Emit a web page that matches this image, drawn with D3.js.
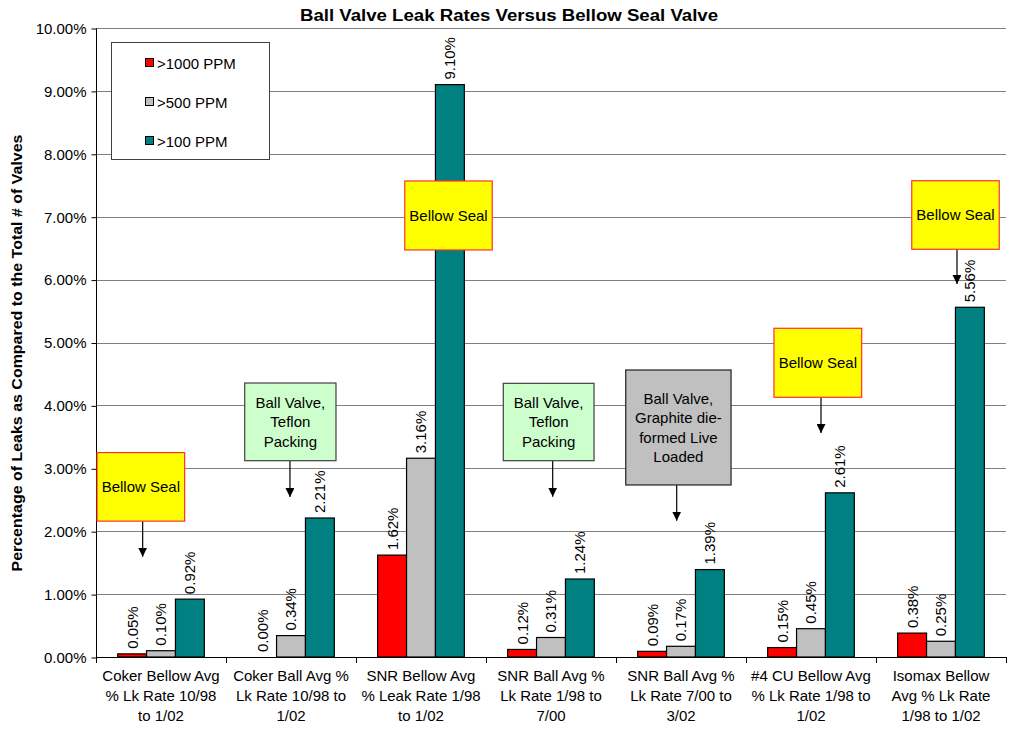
<!DOCTYPE html>
<head>
<meta charset="utf-8">
<style>
body { margin: 0; background: #fff; }
text { font-family: "Liberation Sans", Arial, sans-serif; fill: #000; }
.grid line { stroke: #808080; stroke-width: 1; }
.axis path, .axis line { stroke: #000; }
</style>
</head>
<body>
<script src="https://cdnjs.cloudflare.com/ajax/libs/d3/7.8.5/d3.min.js"></script>
<script>

var categories = [
  ["Coker Bellow Avg", "% Lk Rate 10/98", "to 1/02"],
  ["Coker Ball Avg %", "Lk Rate 10/98 to", "1/02"],
  ["SNR Bellow Avg", "% Leak Rate 1/98", "to 1/02"],
  ["SNR Ball Avg %", "Lk Rate 1/98 to", "7/00"],
  ["SNR Ball Avg %", "Lk Rate 7/00 to", "3/02"],
  ["#4 CU Bellow Avg", "% Lk Rate 1/98 to", "1/02"],
  ["Isomax Bellow", "Avg % Lk Rate", "1/98 to 1/02"]
];
var seriesNames = [">1000 PPM", ">500 PPM", ">100 PPM"];
var ppm1000 = [0.05, 0.00, 1.62, 0.12, 0.09, 0.15, 0.38];
var ppm500  = [0.10, 0.34, 3.16, 0.31, 0.17, 0.45, 0.25];
var ppm100  = [0.92, 2.21, 9.10, 1.24, 1.39, 2.61, 5.56];
var yTicks = [0, 1, 2, 3, 4, 5, 6, 7, 8, 9, 10];

// callouts: x in category units, y in percent units
var notes = [
  {lines: ["Bellow Seal"], kind: "yellow", x0: 0.008, x1: 0.682, y0: 3.25, y1: 2.16, ax: 0.359, tip: 1.595},
  {lines: ["Ball Valve,", "Teflon", "Packing"], kind: "green", x0: 1.144, x1: 1.846, y0: 4.356, y1: 3.121, ax: 1.492, tip: 2.544},
  {lines: ["Bellow Seal"], kind: "yellow", x0: 2.375, x1: 3.048, y0: 7.568, y1: 6.471, ax: null},
  {lines: ["Ball Valve,", "Teflon", "Packing"], kind: "green", x0: 3.133, x1: 3.831, y0: 4.351, y1: 3.121, ax: 3.513, tip: 2.549},
  {lines: ["Ball Valve,", "Graphite die-", "formed Live", "Loaded"], kind: "gray", x0: 4.075, x1: 4.885, y0: 4.563, y1: 2.735, ax: 4.467, tip: 2.167},
  {lines: ["Bellow Seal"], kind: "yellow", x0: 5.215, x1: 5.890, y0: 5.226, y1: 4.129, ax: 5.577, tip: 3.561},
  {lines: ["Bellow Seal"], kind: "yellow", x0: 6.275, x1: 6.948, y0: 7.572, y1: 6.482, ax: 6.623, tip: 5.930}
];

var colors = ["#ff0000", "#c0c0c0", "#008080"];
var boxStyle = {
  yellow: {fill: "#ffff00", stroke: "#ff3030"},
  green: {fill: "#ccffcc", stroke: "#404040"},
  gray: {fill: "#c0c0c0", stroke: "#202020"}
};

var width = 1014, height = 731;
var plotL = 96, plotR = 1006, plotT = 28, plotB = 657;
var fs = "15px";

var svg = d3.select("body").append("svg")
    .attr("width", width)
    .attr("height", height);

var x = d3.scaleBand().domain(d3.range(categories.length)).range([plotL, plotR]);
var xu = d3.scaleLinear().domain([0, categories.length]).range([plotL, plotR]);
var y = d3.scaleLinear().domain([0, 10]).range([plotB, plotT]);
var inner = d3.scaleBand().domain(d3.range(3)).range([0, x.bandwidth()]).paddingInner(0).paddingOuter(0.75);

// title
svg.append("text")
    .attr("x", 509).attr("y", 21)
    .attr("text-anchor", "middle")
    .attr("textLength", 418).attr("lengthAdjust", "spacingAndGlyphs")
    .style("font-size", "16px").style("font-weight", "bold")
    .text("Ball Valve Leak Rates Versus Bellow Seal Valve");

// grid
svg.append("g").attr("class", "grid")
  .selectAll("line").data(yTicks.slice(1)).enter().append("line")
    .attr("x1", plotL).attr("x2", plotR)
    .attr("y1", function(d) { return Math.round(y(d)) + 0.5; })
    .attr("y2", function(d) { return Math.round(y(d)) + 0.5; });

// y axis
var yAxis = d3.axisLeft(y).tickValues(yTicks).tickSize(5).tickPadding(5)
    .tickFormat(function(d) { return d.toFixed(2) + "%"; });
var gy = svg.append("g").attr("class", "axis")
    .attr("transform", "translate(" + (plotL + 0.5) + ",0.5)")
    .call(yAxis);
gy.select(".domain").attr("d", "M0," + plotT + "V" + plotB);
gy.selectAll("text").style("font-size", fs).attr("font-family", null);

svg.append("text")
    .attr("transform", "translate(22,353) rotate(-90)")
    .attr("text-anchor", "middle")
    .attr("textLength", 437).attr("lengthAdjust", "spacingAndGlyphs")
    .style("font-size", "14px").style("font-weight", "bold")
    .text("Percentage of Leaks as Compared to the Total # of Valves");

// bars
var series = [ppm1000, ppm500, ppm100];
var groups = svg.append("g").selectAll("g").data(categories).enter().append("g")
    .attr("transform", function(d, i) { return "translate(" + x(i) + ",0)"; });

groups.each(function(c, i) {
  var g = d3.select(this);
  series.forEach(function(s, k) {
    var v = s[i];
    if (v > 0) {
      g.append("rect")
        .attr("x", inner(k))
        .attr("y", y(v))
        .attr("width", inner.bandwidth())
        .attr("height", y(0) - y(v))
        .attr("fill", colors[k])
        .attr("stroke", "#000").attr("stroke-width", 1.2);
    }
    var cx = inner(k) + inner.bandwidth() / 2;
    g.append("text")
      .attr("transform", "translate(" + cx + "," + (y(v) - 5) + ") rotate(-90)")
      .attr("dy", "0.36em")
      .style("font-size", fs)
      .text(v.toFixed(2) + "%");
  });
});

// x axis
svg.append("line")
    .attr("x1", plotL).attr("x2", plotR)
    .attr("y1", plotB + 0.5).attr("y2", plotB + 0.5)
    .attr("stroke", "#000");
svg.append("g").selectAll("line").data(d3.range(categories.length + 1)).enter().append("line")
    .attr("x1", function(d) { return Math.round(xu(d)) + 0.5; })
    .attr("x2", function(d) { return Math.round(xu(d)) + 0.5; })
    .attr("y1", plotB).attr("y2", plotB + 6)
    .attr("stroke", "#000");

svg.append("g").selectAll("text").data(categories).enter().append("text")
    .attr("x", function(d, i) { return x(i) + x.bandwidth() / 2; })
    .attr("y", 681)
    .attr("text-anchor", "middle")
    .style("font-size", fs)
  .selectAll("tspan").data(function(d) { return d; }).enter().append("tspan")
    .attr("x", function() { return d3.select(this.parentNode).attr("x"); })
    .attr("dy", function(d, j) { return j ? 20 : 0; })
    .text(function(d) { return d; });

// legend
var legend = svg.append("g");
legend.append("rect")
    .attr("x", 111.5).attr("y", 42.5).attr("width", 158).attr("height", 117)
    .attr("fill", "#fff").attr("stroke", "#404040");
seriesNames.forEach(function(name, k) {
  var cy = 63 + k * 39;
  legend.append("rect")
    .attr("x", 145.5).attr("y", cy - 4.5).attr("width", 8).attr("height", 8)
    .attr("fill", colors[k]).attr("stroke", "#000");
  legend.append("text")
    .attr("x", 157).attr("y", cy + 5.5)
    .style("font-size", fs)
    .text(name);
});

// callouts
var marker = svg.append("defs").append("marker")
    .attr("id", "arrow").attr("viewBox", "0 0 10 10")
    .attr("refX", 10).attr("refY", 5)
    .attr("markerWidth", 9).attr("markerHeight", 9)
    .attr("markerUnits", "userSpaceOnUse")
    .attr("orient", "auto");
marker.append("path").attr("d", "M0,0L10,5L0,10Z").attr("fill", "#000");

notes.forEach(function(n) {
  var g = svg.append("g");
  var bx0 = xu(n.x0), bx1 = xu(n.x1), by0 = y(n.y0), by1 = y(n.y1);
  if (n.ax !== null) {
    g.append("line")
      .attr("x1", xu(n.ax)).attr("x2", xu(n.ax))
      .attr("y1", by1).attr("y2", y(n.tip))
      .attr("stroke", "#000").attr("stroke-width", 1.2)
      .attr("marker-end", "url(#arrow)");
  }
  g.append("rect")
    .attr("x", bx0).attr("y", by0)
    .attr("width", bx1 - bx0).attr("height", by1 - by0)
    .attr("fill", boxStyle[n.kind].fill)
    .attr("stroke", boxStyle[n.kind].stroke).attr("stroke-width", 1.2);
  var lh = 19.5;
  var cy = (by0 + by1) / 2 - (n.lines.length - 1) * lh / 2;
  g.append("text")
    .attr("text-anchor", "middle")
    .style("font-size", fs)
    .selectAll("tspan").data(n.lines).enter().append("tspan")
      .attr("x", (bx0 + bx1) / 2)
      .attr("y", function(d, j) { return cy + j * lh; })
      .attr("dy", "0.36em")
      .text(function(d) { return d; });
});

</script>
</body>
</html>
